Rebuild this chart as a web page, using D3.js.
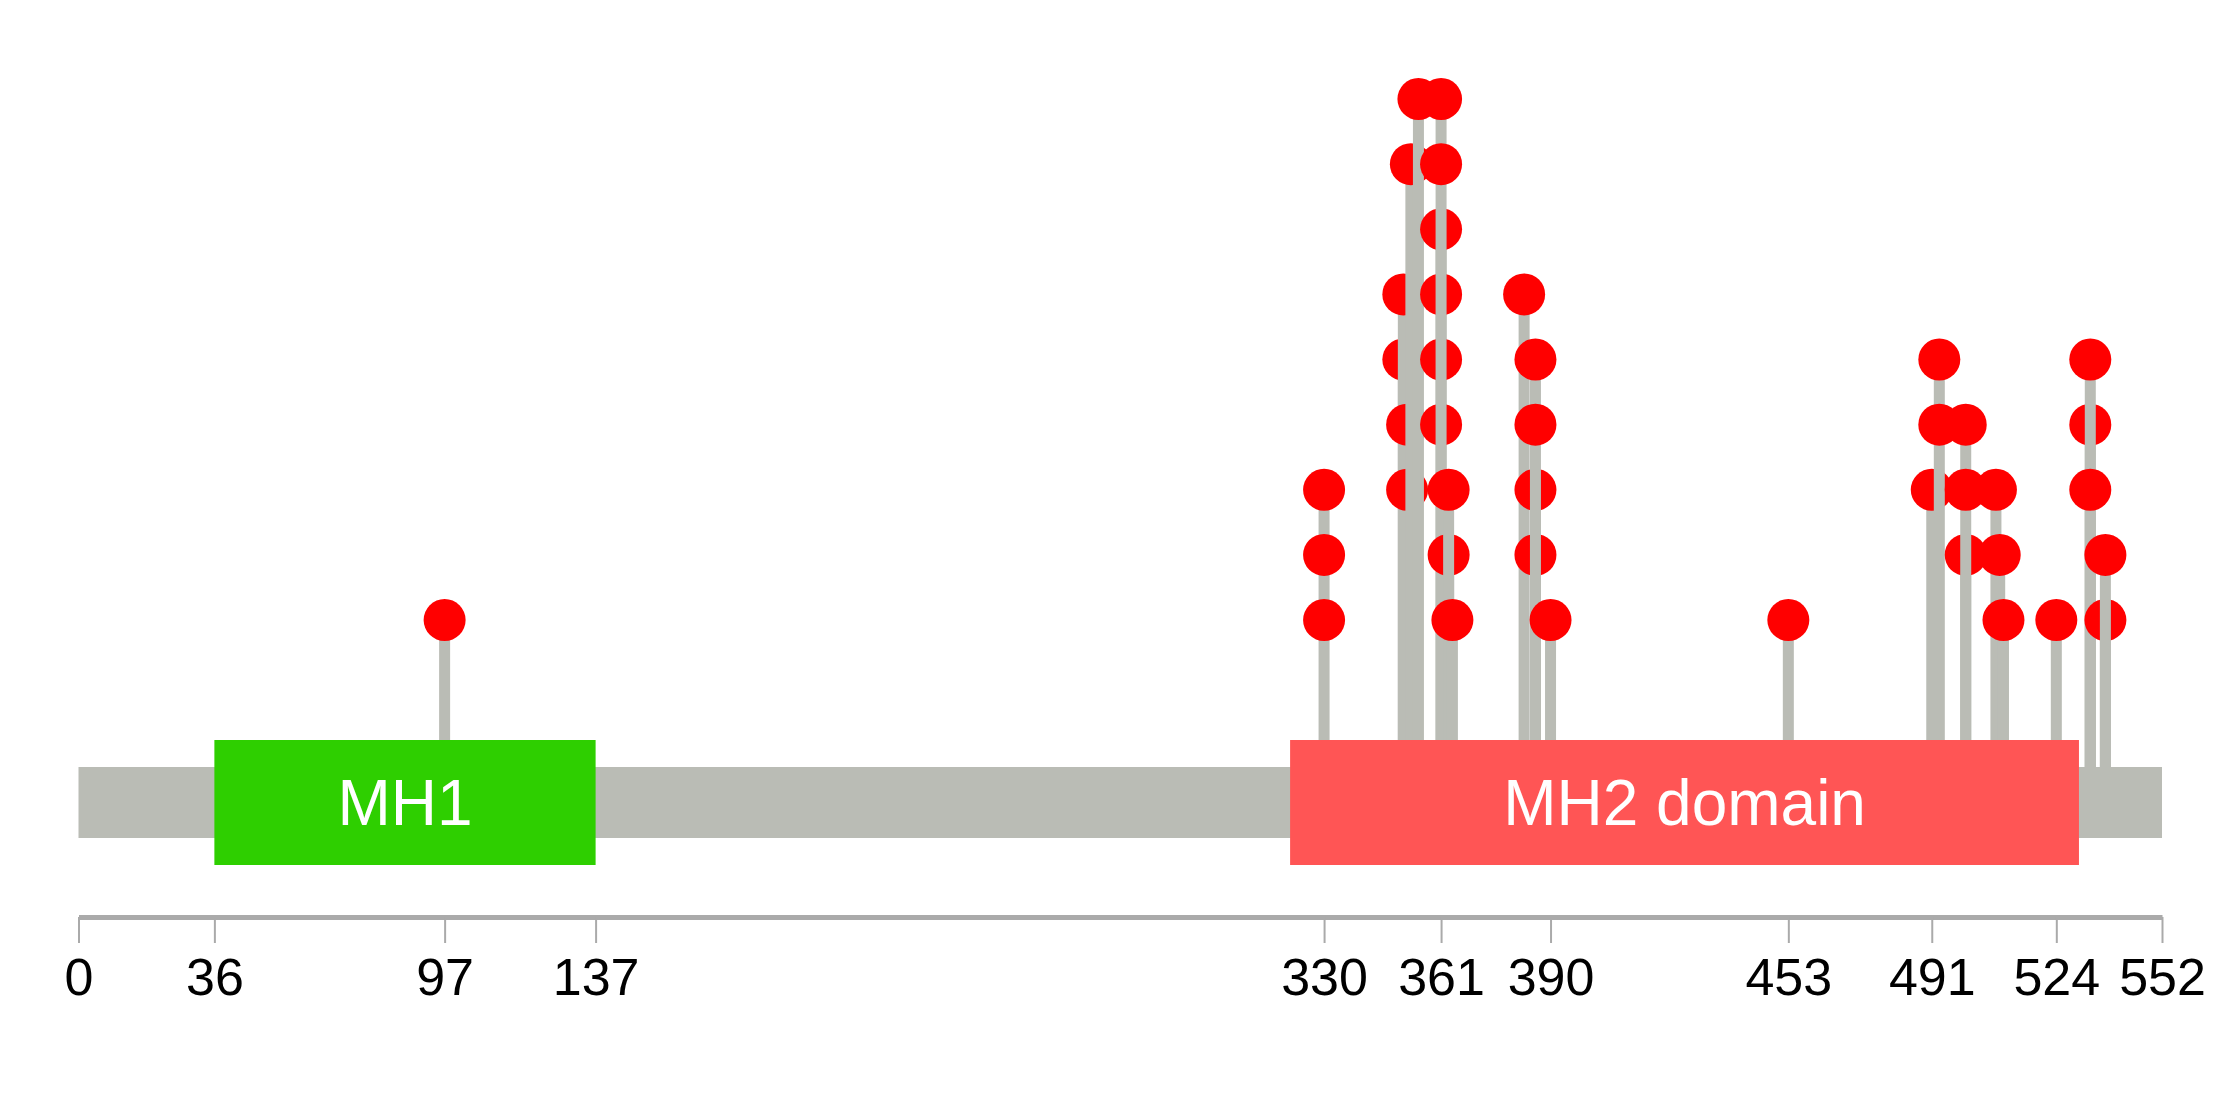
<!DOCTYPE html>
<html><head><meta charset="utf-8">
<script src="https://cdn.jsdelivr.net/npm/d3@7"></script>
<style>html,body{margin:0;padding:0;background:#fff;} svg{display:block;}</style>
</head><body>
<svg id="chart" width="2239" height="1098"></svg>
<script>
// ---- data ----
const proteinLength = 552;
const domainNames = ["MH1", "MH2 domain"];
const domainStarts = [36, 321];
const domainEnds = [137, 530];
const tickValues = [0, 36, 97, 137, 330, 361, 390, 453, 491, 524, 552];
// each entry: a lollipop at a residue position, with its circles stacked from a start level
const mutPositions   = [97, 330, 351, 351, 352, 353, 355, 361, 361, 363, 363, 364, 383, 386, 386, 390, 453, 491, 493, 500, 500, 508, 509, 510, 524, 533, 533, 533, 537, 537];
const mutStartLevels = [1,  1,   5,   6,   3,   8,   9,   4,   8,   2,   3,   1,   6,   2,   4,   1,   1,   3,   4,   2,   3,   3,   2,   1,   1,   4,   5,   3,   1,   2];
const mutCounts      = [1,  3,   1,   1,   2,   1,   1,   4,   2,   1,   1,   1,   1,   2,   2,   1,   1,   1,   2,   1,   2,   1,   1,   1,   1,   1,   1,   1,   1,   1];

// ---- styles ----
const domainColors = ["#2ecf00", "#ff5555"];
const greyCol = "#babcb5";
const axisCol = "#aaaaaa";
const dotCol = "#ff0000";
const fontFam = "'Liberation Sans', Arial, Helvetica, sans-serif";

const svg = d3.select("#chart");
const x = d3.scaleLinear().domain([0, proteinLength]).range([78.5, 2162]);
const y = d3.scaleLinear().domain([1, 9]).range([620, 99]);

const backboneTop = 767, backboneH = 71;
const domainTop = 740, domainH = 125;
const stemW = 11, dotR = 21;
const stemBase = backboneTop + backboneH / 2;
const domFont = 64, tickFont = 52;

const entries = mutPositions.map((p, i) => ({pos: p, start: mutStartLevels[i], count: mutCounts[i]}));

// lollipops (each entry: stem then its circles, in data order)
const groups = svg.append("g").selectAll("g").data(entries).join("g");
groups.append("rect")
  .attr("x", d => x(d.pos) - stemW / 2)
  .attr("width", stemW)
  .attr("y", d => y(d.start + d.count - 1))
  .attr("height", d => stemBase - y(d.start + d.count - 1))
  .attr("fill", greyCol);
groups.selectAll("circle")
  .data(d => d3.range(d.start, d.start + d.count).map(l => ({pos: d.pos, level: l})))
  .join("circle")
  .attr("cx", d => x(d.pos))
  .attr("cy", d => y(d.level))
  .attr("r", dotR)
  .attr("fill", dotCol);

// backbone
svg.append("rect")
  .attr("x", x(0)).attr("width", x(proteinLength) - x(0))
  .attr("y", backboneTop).attr("height", backboneH)
  .attr("fill", greyCol);

// domains
const doms = domainNames.map((n, i) => ({name: n, start: domainStarts[i], end: domainEnds[i], color: domainColors[i]}));
const dg = svg.append("g").selectAll("g").data(doms).join("g");
dg.append("rect")
  .attr("x", d => x(d.start)).attr("width", d => x(d.end) - x(d.start))
  .attr("y", domainTop).attr("height", domainH)
  .attr("fill", d => d.color);
dg.append("text")
  .attr("x", d => (x(d.start) + x(d.end)) / 2)
  .attr("y", domainTop + domainH / 2 + domFont * 0.716 / 2)
  .attr("text-anchor", "middle")
  .attr("font-family", fontFam)
  .attr("font-size", domFont)
  .attr("fill", "#ffffff")
  .text(d => d.name);

// axis
const axis = d3.axisBottom(x).tickValues(tickValues).tickSize(26).tickSizeOuter(0).tickFormat(d3.format("d"));
const ag = svg.append("g").attr("transform", "translate(0,917)").call(axis);
ag.select(".domain").attr("stroke", axisCol).attr("stroke-width", 5);
ag.selectAll(".tick line").attr("stroke", axisCol).attr("stroke-width", 2);
ag.selectAll(".tick text")
  .attr("y", 78).attr("dy", 0)
  .attr("fill", "#000")
  .attr("font-family", fontFam)
  .attr("font-size", tickFont);
</script>
</body></html>
